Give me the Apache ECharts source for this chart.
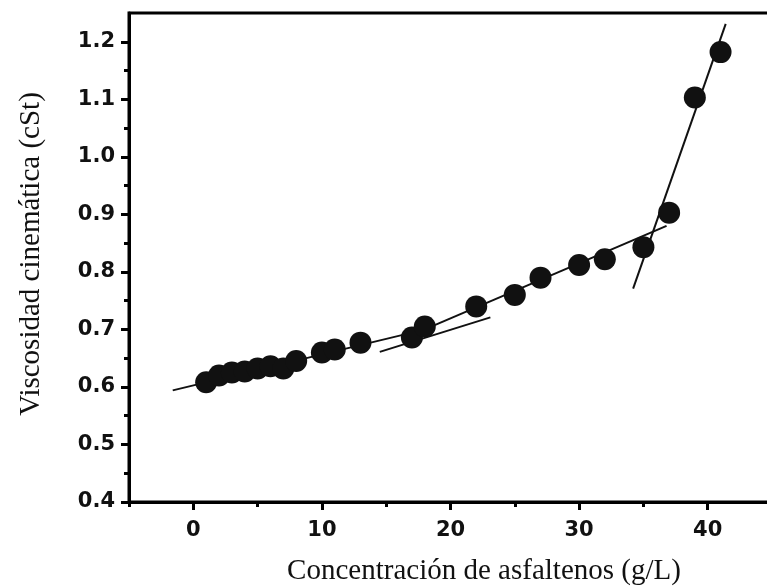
<!DOCTYPE html>
<html>
<head>
<meta charset="utf-8">
<script src="https://cdn.jsdelivr.net/npm/echarts@6/dist/echarts.min.js"></script>
<style>
  html, body { margin: 0; padding: 0; background: #ffffff; }
  #chart { width: 767px; height: 587px; }
</style>
</head>
<body>
<div id="chart"></div>
<script>
// Data
const concentration = [1, 2, 3, 4, 5, 6, 7, 8, 10, 11, 13, 17, 18, 22, 25, 27, 30, 32, 35, 37, 39, 41];
const viscosity = [0.608, 0.62, 0.625, 0.627, 0.632, 0.636, 0.632, 0.645, 0.66, 0.665, 0.677, 0.686, 0.705, 0.74, 0.76, 0.79, 0.812, 0.822, 0.843, 0.903, 1.103, 1.182];

// Fitted straight segments (endpoints)
const fit1X = [-1.6, 17.5];  const fit1Y = [0.594, 0.697];
const fit2X = [14.5, 23.1];  const fit2Y = [0.661, 0.721];
const fit3X = [18.0, 36.8];  const fit3Y = [0.700, 0.880];
const fit4X = [34.2, 41.4];  const fit4Y = [0.771, 1.231];

const xTicks = [0, 10, 20, 30, 40];
const xMinorTicks = [-5, 5, 15, 25, 35, 45];
const yTicks = [0.4, 0.5, 0.6, 0.7, 0.8, 0.9, 1.0, 1.1, 1.2];

const xTitle = 'Concentración de asfaltenos (g/L)';
const yTitle = 'Viscosidad cinemática (cSt)';

function pairs(xs, ys) { return xs.map((x, i) => [x, ys[i]]); }

const chart = echarts.init(document.getElementById('chart'), null, { renderer: 'canvas' });

const lineStyle = { color: '#111', width: 2 };
const fitSeries = [[fit1X, fit1Y], [fit2X, fit2Y], [fit3X, fit3Y], [fit4X, fit4Y]].map(([xs, ys]) => ({
  type: 'line',
  data: pairs(xs, ys),
  showSymbol: false,
  symbol: 'none',
  lineStyle: lineStyle,
  z: 3,
  silent: true,
  animation: false
}));

const labelFont = { color: '#111', fontFamily: 'DejaVu Sans', fontWeight: 'bold', fontSize: 21 };

const option = {
  animation: false,
  backgroundColor: '#ffffff',
  grid: {
    left: 129, right: -5, top: 13, bottom: 85,
    show: true, borderColor: '#000', borderWidth: 3,
    outerBoundsMode: 'none', containLabel: false
  },
  xAxis: [{
    type: 'value', min: -5, max: 45, interval: 5,
    axisLine: { show: true, onZero: false, lineStyle: { color: '#000', width: 3 } },
    axisTick: { show: true, inside: false, length: 8, customValues: xTicks, lineStyle: { color: '#000', width: 3 } },
    splitLine: { show: false },
    axisLabel: Object.assign({ margin: 18, customValues: xTicks, formatter: v => String(v) }, labelFont)
  }, {
    type: 'value', min: -5, max: 45, interval: 5, position: 'bottom',
    axisLine: { show: false, onZero: false },
    axisTick: { show: true, inside: false, length: 5, customValues: xMinorTicks, lineStyle: { color: '#000', width: 3 } },
    splitLine: { show: false },
    axisLabel: { show: false }
  }],
  yAxis: {
    type: 'value', min: 0.4, max: 1.25, interval: 0.1,
    axisLine: { show: true, onZero: false, lineStyle: { color: '#000', width: 3 } },
    axisTick: { show: true, inside: false, length: 8, customValues: yTicks, lineStyle: { color: '#000', width: 3 } },
    minorTick: { show: true, splitNumber: 2, length: 5, lineStyle: { color: '#000', width: 3 } },
    splitLine: { show: false },
    axisLabel: Object.assign({ margin: 14, customValues: yTicks, formatter: v => v.toFixed(1) }, labelFont)
  },
  graphic: [
    {
      type: 'text', x: 484, y: 571,
      style: { text: xTitle, fill: '#111', font: '29px "Liberation Serif"', align: 'center', verticalAlign: 'middle' }
    },
    {
      type: 'text', x: 31, y: 254, rotation: Math.PI / 2,
      style: { text: yTitle, fill: '#111', font: '29px "Liberation Serif"', align: 'center', verticalAlign: 'middle' }
    }
  ],
  series: fitSeries.concat([{
    type: 'scatter',
    data: pairs(concentration, viscosity),
    symbol: 'circle',
    symbolSize: 22,
    itemStyle: { color: '#111', opacity: 1 },
    z: 4
  }])
};
chart.setOption(option);
</script>
</body>
</html>
